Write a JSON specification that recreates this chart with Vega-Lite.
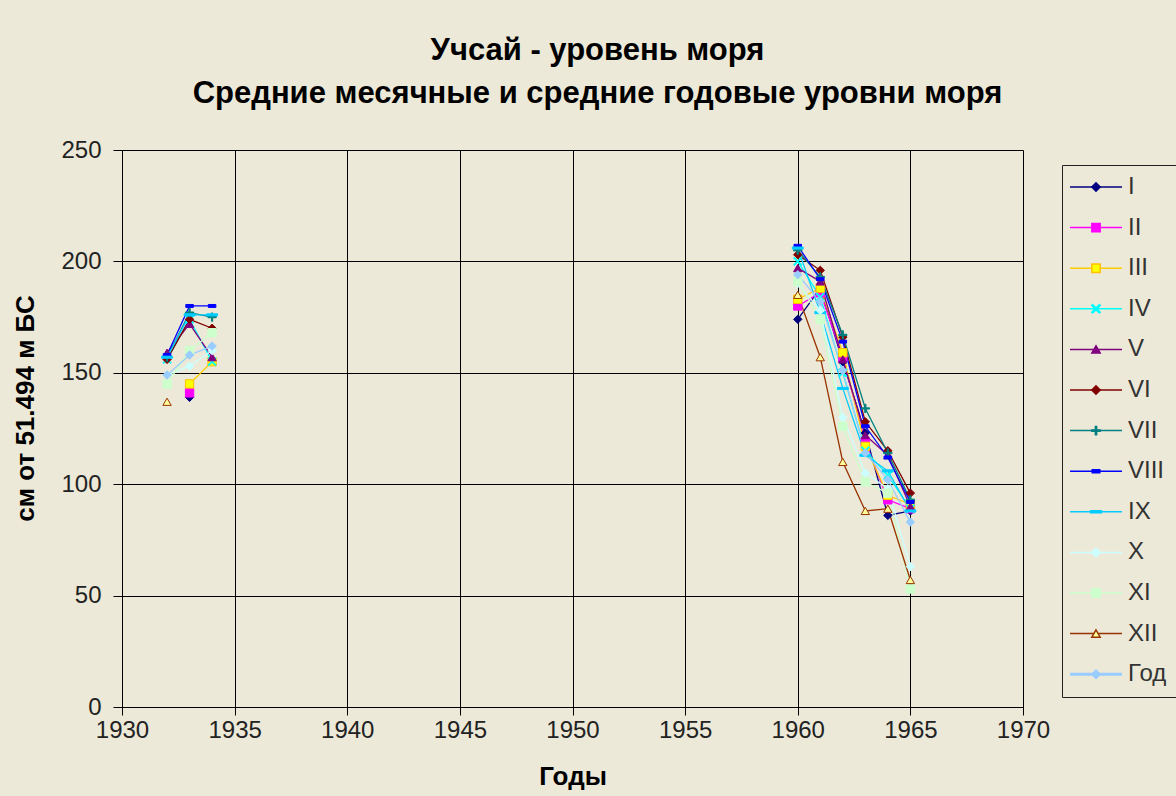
{
  "$schema": "https://vega.github.io/schema/vega-lite/v6.json",
  "width": 901,
  "height": 557,
  "autosize": {"type": "none"},
  "padding": {"left": 122, "top": 150, "right": 153, "bottom": 89},
  "background": "#ECE9D8",
  "config": {
    "view": {"stroke": null},
    "font": "Liberation Sans"
  },
  "title": {
    "text": ["Учсай - уровень моря", "Средние месячные и средние годовые уровни моря"],
    "font": "Liberation Sans",
    "fontSize": 31,
    "fontWeight": "bold",
    "color": "#000000",
    "lineHeight": 43,
    "anchor": "middle",
    "dx": 25,
    "offset": 28
  },
  "data": {
    "values": [
      {"series": "I", "period": "a", "year": 1933, "value": 139},
      {"series": "I", "period": "b", "year": 1960, "value": 174},
      {"series": "I", "period": "b", "year": 1961, "value": 188},
      {"series": "I", "period": "b", "year": 1962, "value": 155},
      {"series": "I", "period": "b", "year": 1963, "value": 123},
      {"series": "I", "period": "b", "year": 1964, "value": 86},
      {"series": "I", "period": "b", "year": 1965, "value": 88},
      {"series": "II", "period": "a", "year": 1933, "value": 141},
      {"series": "II", "period": "b", "year": 1960, "value": 180},
      {"series": "II", "period": "b", "year": 1961, "value": 186},
      {"series": "II", "period": "b", "year": 1962, "value": 157},
      {"series": "II", "period": "b", "year": 1963, "value": 119},
      {"series": "II", "period": "b", "year": 1964, "value": 93},
      {"series": "II", "period": "b", "year": 1965, "value": 89},
      {"series": "III", "period": "a", "year": 1933, "value": 145},
      {"series": "III", "period": "a", "year": 1934, "value": 155},
      {"series": "III", "period": "b", "year": 1960, "value": 183},
      {"series": "III", "period": "b", "year": 1961, "value": 188},
      {"series": "III", "period": "b", "year": 1962, "value": 159},
      {"series": "III", "period": "b", "year": 1963, "value": 117},
      {"series": "III", "period": "b", "year": 1964, "value": 95},
      {"series": "III", "period": "b", "year": 1965, "value": 91},
      {"series": "IV", "period": "a", "year": 1932, "value": 156},
      {"series": "IV", "period": "a", "year": 1933, "value": 174},
      {"series": "IV", "period": "a", "year": 1934, "value": 155},
      {"series": "IV", "period": "b", "year": 1960, "value": 200},
      {"series": "IV", "period": "b", "year": 1961, "value": 184},
      {"series": "IV", "period": "b", "year": 1962, "value": 150},
      {"series": "IV", "period": "b", "year": 1963, "value": 115},
      {"series": "IV", "period": "b", "year": 1964, "value": 104},
      {"series": "IV", "period": "b", "year": 1965, "value": 89},
      {"series": "V", "period": "a", "year": 1932, "value": 159},
      {"series": "V", "period": "a", "year": 1933, "value": 172},
      {"series": "V", "period": "a", "year": 1934, "value": 157},
      {"series": "V", "period": "b", "year": 1960, "value": 197},
      {"series": "V", "period": "b", "year": 1961, "value": 191},
      {"series": "V", "period": "b", "year": 1962, "value": 156},
      {"series": "V", "period": "b", "year": 1963, "value": 122},
      {"series": "V", "period": "b", "year": 1964, "value": 113},
      {"series": "V", "period": "b", "year": 1965, "value": 90},
      {"series": "VI", "period": "a", "year": 1932, "value": 156},
      {"series": "VI", "period": "a", "year": 1933, "value": 174},
      {"series": "VI", "period": "a", "year": 1934, "value": 170},
      {"series": "VI", "period": "b", "year": 1960, "value": 203},
      {"series": "VI", "period": "b", "year": 1961, "value": 196},
      {"series": "VI", "period": "b", "year": 1962, "value": 166},
      {"series": "VI", "period": "b", "year": 1963, "value": 128},
      {"series": "VI", "period": "b", "year": 1964, "value": 115},
      {"series": "VI", "period": "b", "year": 1965, "value": 96},
      {"series": "VII", "period": "a", "year": 1932, "value": 157},
      {"series": "VII", "period": "a", "year": 1933, "value": 177},
      {"series": "VII", "period": "a", "year": 1934, "value": 175},
      {"series": "VII", "period": "b", "year": 1960, "value": 205},
      {"series": "VII", "period": "b", "year": 1961, "value": 193},
      {"series": "VII", "period": "b", "year": 1962, "value": 167},
      {"series": "VII", "period": "b", "year": 1963, "value": 134},
      {"series": "VII", "period": "b", "year": 1964, "value": 114},
      {"series": "VII", "period": "b", "year": 1965, "value": 93},
      {"series": "VIII", "period": "a", "year": 1932, "value": 158},
      {"series": "VIII", "period": "a", "year": 1933, "value": 180},
      {"series": "VIII", "period": "a", "year": 1934, "value": 180},
      {"series": "VIII", "period": "b", "year": 1960, "value": 207},
      {"series": "VIII", "period": "b", "year": 1961, "value": 192},
      {"series": "VIII", "period": "b", "year": 1962, "value": 164},
      {"series": "VIII", "period": "b", "year": 1963, "value": 126},
      {"series": "VIII", "period": "b", "year": 1964, "value": 112},
      {"series": "VIII", "period": "b", "year": 1965, "value": 92},
      {"series": "IX", "period": "a", "year": 1932, "value": 157},
      {"series": "IX", "period": "a", "year": 1933, "value": 176},
      {"series": "IX", "period": "a", "year": 1934, "value": 176},
      {"series": "IX", "period": "b", "year": 1960, "value": 206},
      {"series": "IX", "period": "b", "year": 1961, "value": 177},
      {"series": "IX", "period": "b", "year": 1962, "value": 143},
      {"series": "IX", "period": "b", "year": 1963, "value": 113},
      {"series": "IX", "period": "b", "year": 1964, "value": 106},
      {"series": "IX", "period": "b", "year": 1965, "value": 88},
      {"series": "X", "period": "a", "year": 1932, "value": 149},
      {"series": "X", "period": "a", "year": 1933, "value": 153},
      {"series": "X", "period": "a", "year": 1934, "value": 160},
      {"series": "X", "period": "b", "year": 1960, "value": 190},
      {"series": "X", "period": "b", "year": 1961, "value": 178},
      {"series": "X", "period": "b", "year": 1962, "value": 130},
      {"series": "X", "period": "b", "year": 1963, "value": 105},
      {"series": "X", "period": "b", "year": 1964, "value": 98},
      {"series": "X", "period": "b", "year": 1965, "value": 63},
      {"series": "XI", "period": "a", "year": 1932, "value": 145},
      {"series": "XI", "period": "a", "year": 1933, "value": 160},
      {"series": "XI", "period": "a", "year": 1934, "value": 168},
      {"series": "XI", "period": "b", "year": 1960, "value": 191},
      {"series": "XI", "period": "b", "year": 1961, "value": 174},
      {"series": "XI", "period": "b", "year": 1962, "value": 126},
      {"series": "XI", "period": "b", "year": 1963, "value": 101},
      {"series": "XI", "period": "b", "year": 1964, "value": 96},
      {"series": "XI", "period": "b", "year": 1965, "value": 53},
      {"series": "XII", "period": "a", "year": 1932, "value": 137},
      {"series": "XII", "period": "b", "year": 1960, "value": 185},
      {"series": "XII", "period": "b", "year": 1961, "value": 157},
      {"series": "XII", "period": "b", "year": 1962, "value": 110},
      {"series": "XII", "period": "b", "year": 1963, "value": 88},
      {"series": "XII", "period": "b", "year": 1964, "value": 89},
      {"series": "XII", "period": "b", "year": 1965, "value": 57},
      {"series": "Год", "period": "a", "year": 1932, "value": 149},
      {"series": "Год", "period": "a", "year": 1933, "value": 158},
      {"series": "Год", "period": "a", "year": 1934, "value": 162},
      {"series": "Год", "period": "b", "year": 1960, "value": 194},
      {"series": "Год", "period": "b", "year": 1961, "value": 182},
      {"series": "Год", "period": "b", "year": 1962, "value": 151},
      {"series": "Год", "period": "b", "year": 1963, "value": 114},
      {"series": "Год", "period": "b", "year": 1964, "value": 102},
      {"series": "Год", "period": "b", "year": 1965, "value": 83}
    ]
  },
  "encoding": {
    "x": {
      "field": "year",
      "type": "quantitative",
      "scale": {"domain": [1930, 1970], "nice": false, "zero": false},
      "axis": {
        "title": "Годы",
        "values": [1930, 1935, 1940, 1945, 1950, 1955, 1960, 1965, 1970],
        "format": "d",
        "labelFlush": false,
        "labelOverlap": false,
        "grid": true,
        "gridColor": "#000000",
        "gridOpacity": 1,
        "gridWidth": 1,
        "domainColor": "#000000",
        "tickColor": "#000000",
        "tickSize": 8,
        "labelPadding": 3,
        "labelFont": "Liberation Sans",
        "labelFontSize": 24,
        "labelColor": "#222222",
        "titleFont": "Liberation Sans",
        "titleFontSize": 26,
        "titleFontWeight": "bold",
        "titleColor": "#000000",
        "titlePadding": 21
      }
    },
    "y": {
      "field": "value",
      "type": "quantitative",
      "scale": {"domain": [0, 250], "nice": false},
      "axis": {
        "title": "см от 51.494 м БС",
        "values": [0, 50, 100, 150, 200, 250],
        "labelFlush": false,
        "labelOverlap": false,
        "grid": true,
        "gridColor": "#000000",
        "gridOpacity": 1,
        "gridWidth": 1,
        "domainColor": "#000000",
        "tickColor": "#000000",
        "tickSize": 9,
        "labelPadding": 12,
        "labelFont": "Liberation Sans",
        "labelFontSize": 24,
        "labelColor": "#222222",
        "titleFont": "Liberation Sans",
        "titleFontSize": 26,
        "titleFontWeight": "bold",
        "titleColor": "#000000",
        "titlePadding": 22,
        "titleY": 258
      }
    }
  },
  "layer": [
    {
      "mark": {"type": "line", "strokeWidth": 1.3},
      "encoding": {
        "detail": {"field": "period", "type": "nominal"},
        "strokeWidth": {"condition": {"test": "datum.series === 'Год'", "value": 3}, "value": 1.3},
        "color": {
          "field": "series",
          "type": "nominal",
          "scale": {
            "domain": ["I", "II", "III", "IV", "V", "VI", "VII", "VIII", "IX", "X", "XI", "XII", "Год"],
            "range": ["#000080", "#FF00FF", "#FFCC00", "#00FFFF", "#800080", "#800000", "#008080", "#0000FF", "#00CCFF", "#CCFFFF", "#CCFFCC", "#993300", "#99CCFF"]
          },
          "legend": {
            "title": null,
            "orient": "none",
            "legendX": 940,
            "legendY": 15,
            "symbolType": "stroke",
            "symbolSize": 70,
            "symbolStrokeWidth": 1.5,
            "symbolOffset": 12,
            "labelOffset": 20,
            "labelFontSize": 24,
            "labelOpacity": 0,
            "rowPadding": 16.6,
            "padding": 10,
            "strokeColor": "#222222",
            "encode": {
              "symbols": {
                "update": {
                  "size": {"value": 2704},
                  "strokeWidth": {"signal": "datum.value === 'Год' ? 3 : 1.5"}
                }
              }
            }
          }
        }
      }
    },
    {
      "mark": {"type": "point", "filled": true, "size": 70, "opacity": 1, "strokeWidth": 1},
      "encoding": {
        "fill": {
          "field": "series",
          "type": "nominal",
          "sort": null,
          "scale": {
            "range": ["#000080", "#FF00FF", "#FFFF00", "#00FFFF", "#800080", "#800000", "#008080", "#0000FF", "#00CCFF", "#CCFFFF", "#CCFFCC", "#FFFF99", "#99CCFF"]
          },
          "legend": {
            "title": null,
            "orient": "none",
            "legendX": 940,
            "legendY": 15,
            "symbolSize": 70,
            "symbolOffset": 12,
            "labelOffset": 20,
            "labelFont": "Liberation Sans",
            "labelFontSize": 24,
            "labelColor": "#333333",
            "rowPadding": 16.6,
            "padding": 10,
            "strokeColor": null
          }
        },
        "stroke": {
          "field": "series",
          "type": "nominal",
          "sort": null,
          "scale": {
            "range": ["#000080", "#FF00FF", "#FFC000", "#00FFFF", "#800080", "#800000", "#008080", "#0000FF", "#00CCFF", "#CCFFFF", "#CCFFCC", "#993300", "#99CCFF"]
          },
          "legend": {
            "title": null,
            "orient": "none",
            "legendX": 940,
            "legendY": 15,
            "symbolSize": 70,
            "symbolOffset": 12,
            "labelOffset": 20,
            "labelFontSize": 24,
            "rowPadding": 16.6,
            "padding": 10,
            "strokeColor": null
          }
        },
        "shape": {
          "field": "series",
          "type": "nominal",
          "sort": null,
          "scale": {
            "range": [
              "diamond",
              "square",
              "square",
              "M-1,-0.8L-0.8,-1L0,-0.2L0.8,-1L1,-0.8L0.2,0L1,0.8L0.8,1L0,0.2L-0.8,1L-1,0.8L-0.2,0Z",
              "triangle-up",
              "diamond",
              "M-0.15,-1H0.15V-0.15H1V0.15H0.15V1H-0.15V0.15H-1V-0.15H-0.15Z",
              "M-0.9,-0.35H0.9V0.35H-0.9Z",
              "M-1.3,-0.25H1.3V0.25H-1.3Z",
              "diamond",
              "square",
              "triangle-up",
              "diamond"
            ]
          },
          "legend": {
            "title": null,
            "orient": "none",
            "legendX": 940,
            "legendY": 15,
            "symbolSize": 70,
            "symbolOffset": 12,
            "labelOffset": 20,
            "labelFontSize": 24,
            "rowPadding": 16.6,
            "padding": 10,
            "strokeColor": null
          }
        }
      }
    }
  ]
}
